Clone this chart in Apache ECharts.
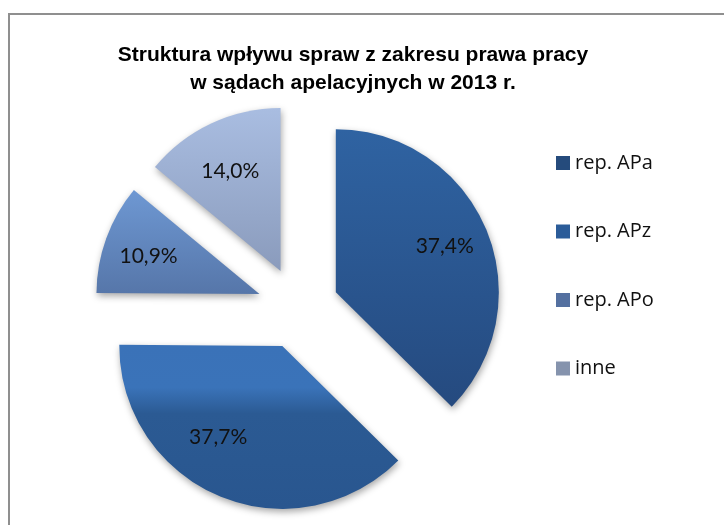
<!DOCTYPE html>
<html>
<head>
<meta charset="utf-8">
<script src="https://cdn.jsdelivr.net/npm/echarts@6/dist/echarts.min.js"></script>
<style>
  html, body { margin: 0; padding: 0; background: #fff; }
  #chart { width: 724px; height: 525px; }
</style>
</head>
<body>
<div id="chart"></div>
<script>
// dane
const categories = ['rep. APa', 'rep. APz', 'rep. APo', 'inne']
const shares = [37.4, 37.7, 10.9, 14.0]
const legendColors = ['#254B7C', '#2B5C99', '#5470A0', '#8593AD']
const sliceGradients = [
  [[0, '#2F63A2'], [1, '#254A7F']],
  [[0, '#3A72B8'], [0.26, '#3A73B9'], [0.42, '#2B5A93'], [1, '#29568F']],
  [[0, '#6E98D3'], [1, '#5676A9']],
  [[0, '#A9BDE1'], [1, '#8A9BBC']]
]
// przesunięcie etykiet jak w Excelu [dx, dy]
const labelShift = [
  [0, 0],
  [-19, -18],
  [0, 3],
  [0, 7]
]

const grad = (stops) => new echarts.graphic.LinearGradient(0, 0, 0, 1,
  stops.map(s => ({ offset: s[0], color: s[1] })))

const fmt = (v) => v.toFixed(1).replace('.', ',') + '%'

const center = [298, 308]

const labelFor = (i) => {
  const [dx, dy] = labelShift[i]
  const h = Math.abs(dy) * 2
  const gapName = 'g' + i
  const rich = {
    v: { fontFamily: 'Lato, "Noto Sans", sans-serif', fontSize: 21, lineHeight: 24, color: '#111' }
  }
  rich[gapName] = { fontSize: 1, lineHeight: h, height: h }
  return {
    padding: [0, dx < 0 ? -dx * 2 : 0, 0, dx > 0 ? dx * 2 : 0],
    rich: rich,
    formatter: (p) => {
      const t = '{v|' + fmt(p.value) + '}'
      if (dy > 0) return '{' + gapName + '| }\n' + t
      if (dy < 0) return t + '\n{' + gapName + '| }'
      return t
    }
  }
}

const myChart = echarts.init(document.getElementById('chart'))

const option = {
  animation: false,
  title: {
    text: 'Struktura wpływu spraw z zakresu prawa pracy\nw sądach apelacyjnych w 2013 r.',
    left: 353,
    top: 41,
    padding: 0,
    textAlign: 'center',
    textStyle: {
      fontFamily: '"Liberation Sans", Arial, sans-serif',
      fontWeight: 'bold',
      fontSize: 21,
      lineHeight: 28,
      color: '#000'
    }
  },
  legend: {
    orient: 'vertical',
    left: 556,
    top: 153,
    padding: 0,
    icon: 'rect',
    itemWidth: 14,
    itemHeight: 14,
    itemGap: 48.5,
    itemTextGap: 7,
    selectedMode: false,
    data: categories.map((c, i) => ({ name: c, itemStyle: { color: legendColors[i] } })),
    textStyle: {
      fontFamily: '"Open Sans", Lato, sans-serif',
      fontSize: 20,
      lineHeight: 14,
      color: '#111'
    }
  },
  graphic: [{
    type: 'rect',
    shape: { x: 9, y: 14, width: 800, height: 600 },
    style: { fill: 'none', stroke: '#8f8f8f', lineWidth: 2 },
    silent: true,
    z: -10
  }],
  series: [
    {
      type: 'pie',
      center: center,
      radius: [0, 163],
      startAngle: 90,
      clockwise: true,
      selectedMode: 'multiple',
      selectedOffset: 41,
      avoidLabelOverlap: false,
      label: { show: false },
      labelLine: { show: false },
      emphasis: { disabled: true },
      itemStyle: {
        shadowBlur: 7,
        shadowColor: 'rgba(0,0,0,0.35)',
        shadowOffsetX: 1,
        shadowOffsetY: 3
      },
      data: categories.map((c, i) => ({
        name: c,
        value: shares[i],
        selected: true,
        itemStyle: { color: grad(sliceGradients[i]) }
      }))
    },
    {
      // tylko etykiety, dalej od środka niż domyślne 'inside'
      type: 'pie',
      center: center,
      radius: [0, 230],
      startAngle: 90,
      clockwise: true,
      selectedMode: 'multiple',
      selectedOffset: 41,
      silent: true,
      avoidLabelOverlap: false,
      itemStyle: { color: 'rgba(0,0,0,0)' },
      labelLine: { show: false },
      emphasis: { disabled: true },
      label: {
        show: true,
        position: 'inside',
        fontFamily: 'Lato, "Noto Sans", sans-serif',
        fontSize: 21,
        color: '#111'
      },
      data: categories.map((c, i) => ({
        name: c,
        value: shares[i],
        selected: true,
        label: labelFor(i)
      }))
    }
  ]
}

myChart.setOption(option)
window.addEventListener('resize', () => myChart.resize())
</script>
</body>
</html>
